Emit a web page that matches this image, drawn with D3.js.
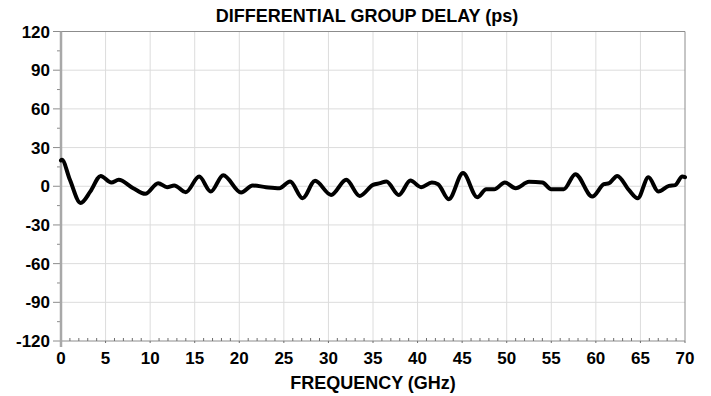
<!DOCTYPE html>
<html>
<head>
<meta charset="utf-8">
<script src="https://cdn.jsdelivr.net/npm/d3@7/dist/d3.min.js"></script>
<style>
  body { margin: 0; background: #fff; }
  svg { display: block; font-family: "Liberation Sans", Arial, sans-serif; font-weight: bold; }
  .grid line { stroke: #dcdcdc; stroke-width: 1; }
</style>
</head>
<body>
<svg width="711" height="396"></svg>
<script>
"use strict";

// frequency (GHz) and delay (ps)
var freq = [0, 0.1, 1.0, 2.2, 3.3, 4.45, 5.65, 6.47, 8.1, 9.46, 10.9, 11.9, 12.7, 14.0,
  15.5, 16.8, 18.2, 20.2, 21.5, 23.0, 24.5, 25.7, 27.1, 28.5, 30.3, 32.0, 33.5, 35.0,
  35.8, 36.5, 37.9, 39.2, 40.4, 41.6, 42.3, 43.5, 45.1, 46.7, 47.7, 48.6, 49.8, 51.0,
  52.5, 54.0, 55.0, 56.4, 57.7, 59.6, 60.9, 61.5, 62.4, 63.7, 64.7, 65.9, 67.0, 68.2,
  68.9, 69.7, 70];
var delay = [20, 20.5, 5, -13, -4, 8, 2.9, 5, -1.5, -5.9, 2.4, -0.7, 0.6, -4.6,
  7.5, -4.1, 8.6, -4.9, 0.6, -0.7, -1.5, 3.7, -9.3, 4.2, -6.7, 5, -7.5, 1.1,
  2.4, 3.7, -6.7, 4.4, -0.7, 2.9, 1.6, -10, 10.2, -8.5, -2.3, -2.3, 2.9, -1.5,
  3.4, 2.9, -2.3, -2.3, 9.4, -8, 1.6, 2.4, 8, -2.8, -9.3, 7, -4.1, 0.3,
  0.9, 7.5, 7];

var xTicks = d3.range(0, 71, 5);
var yTicks = d3.range(-120, 121, 30);
var xMinor = d3.range(0, 71, 1);
var yMinor = d3.range(-120, 121, 15);

var svg = d3.select("svg");
var pLeft = 61, pRight = 685, pTop = 31.5, pBottom = 341;

var x = d3.scaleLinear().domain([0, 70]).range([pLeft, pRight]);
var y = d3.scaleLinear().domain([-120, 120]).range([pBottom, pTop]);

// grid
var grid = svg.append("g").attr("class", "grid");
grid.selectAll("line.v").data(xTicks.slice(1, -1)).enter().append("line")
    .attr("x1", function(d) { return x(d); }).attr("x2", function(d) { return x(d); })
    .attr("y1", pTop).attr("y2", pBottom);
grid.selectAll("line.h").data(yTicks.slice(1, -1)).enter().append("line")
    .attr("class", "h")
    .attr("x1", pLeft).attr("x2", pRight)
    .attr("y1", function(d) { return y(d); }).attr("y2", function(d) { return y(d); });

// frame
svg.append("line").attr("x1", pLeft).attr("x2", pRight).attr("y1", pTop).attr("y2", pTop)
    .attr("stroke", "#8c8c8c");
svg.append("line").attr("x1", pRight).attr("x2", pRight).attr("y1", pTop).attr("y2", pBottom)
    .attr("stroke", "#8c8c8c");

// x axis
var xAxis = svg.append("g").attr("transform", "translate(0," + pBottom + ")");
xAxis.append("line").attr("x1", pLeft).attr("x2", pRight).attr("stroke", "#8c8c8c");
xAxis.selectAll("line.m").data(xMinor).enter().append("line")
    .attr("x1", function(d) { return x(d); }).attr("x2", function(d) { return x(d); })
    .attr("y1", 0).attr("y2", function(d) { return d % 5 === 0 ? 2 : -3; })
    .attr("stroke", "#6e6e6e");
xAxis.selectAll("text").data(xTicks).enter().append("text")
    .attr("x", function(d) { return x(d); }).attr("y", 23)
    .attr("text-anchor", "middle").attr("font-size", 17).attr("fill", "#000")
    .text(function(d) { return d; });

// y axis
var yAxis = svg.append("g").attr("transform", "translate(" + pLeft + ",0)");
yAxis.selectAll("line.m").data(yMinor).enter().append("line")
    .attr("x1", function(d) { return d % 30 === 0 ? -8 : -4; }).attr("x2", 0)
    .attr("y1", function(d) { return y(d); }).attr("y2", function(d) { return y(d); })
    .attr("stroke", "#8c8c8c");
yAxis.append("line").attr("y1", pTop).attr("y2", pBottom + 6)
    .attr("stroke", "#a8a8a8").attr("stroke-width", 2.5);
yAxis.selectAll("text").data(yTicks).enter().append("text")
    .attr("x", -11).attr("y", function(d) { return y(d) + 6; })
    .attr("text-anchor", "end").attr("font-size", 17).attr("fill", "#000")
    .text(function(d) { return d; });

// trace
var line = d3.line()
    .x(function(d, i) { return x(freq[i]); })
    .y(function(d) { return y(d); })
    .curve(d3.curveMonotoneX);
svg.append("path").datum(delay)
    .attr("d", line)
    .attr("fill", "none").attr("stroke", "#000").attr("stroke-width", 4)
    .attr("stroke-linejoin", "round").attr("stroke-linecap", "round");

// titles
svg.append("text").attr("x", 367).attr("y", 22).attr("text-anchor", "middle")
    .attr("font-size", 18).text("DIFFERENTIAL GROUP DELAY (ps)");
svg.append("text").attr("x", 373).attr("y", 389).attr("text-anchor", "middle")
    .attr("font-size", 18).text("FREQUENCY (GHz)");
</script>
</body>
</html>
